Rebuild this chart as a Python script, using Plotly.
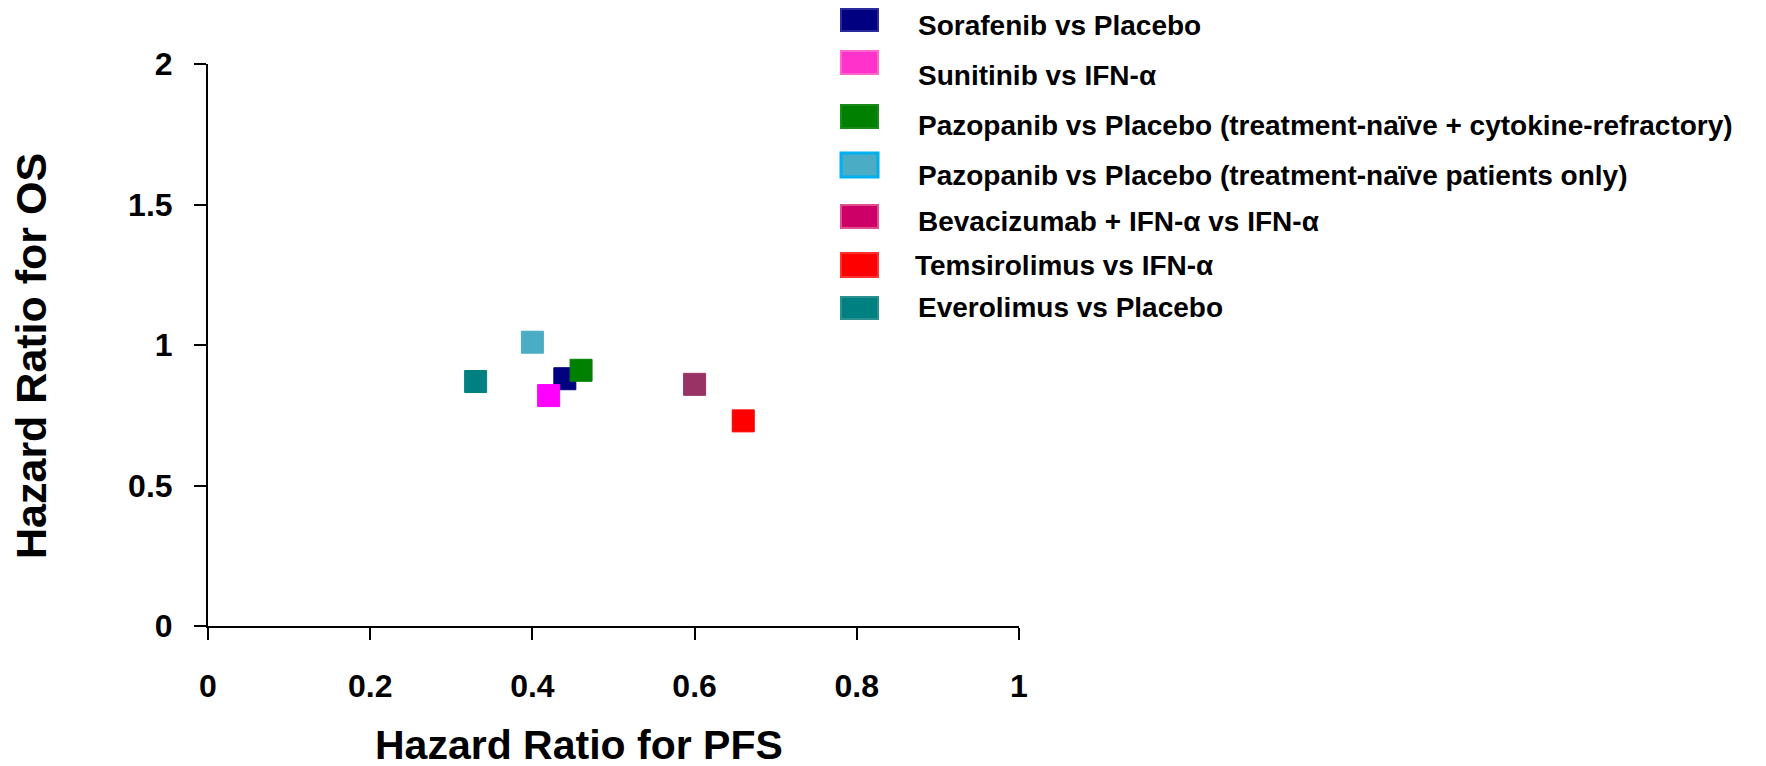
import plotly.graph_objects as go

# ---- data ----
names = [
    "Sorafenib vs Placebo",
    "Sunitinib vs IFN-α",
    "Pazopanib vs Placebo (treatment-naïve + cytokine-refractory)",
    "Pazopanib vs Placebo (treatment-naïve patients only)",
    "Bevacizumab + IFN-α vs IFN-α",
    "Temsirolimus vs IFN-α",
    "Everolimus vs Placebo",
]
hr_pfs = [0.44, 0.42, 0.46, 0.40, 0.60, 0.66, 0.33]
hr_os = [0.88, 0.82, 0.91, 1.01, 0.86, 0.73, 0.87]
marker_colors = ["#000080", "#FF00FF", "#008000", "#4BACC6", "#993366", "#FF0000", "#008080"]
legend_fill = ["#000080", "#FF33CC", "#008000", "#4BACC6", "#CC0066", "#FF0000", "#008080"]
legend_border = ["#2a2a9a", "#FF66CC", "#1a8a1a", "#00B0F0", "#E0508F", "#FF3030", "#2a9090"]
x_ticks = [0, 0.2, 0.4, 0.6, 0.8, 1]
y_ticks = [0, 0.5, 1, 1.5, 2]

# ---- layout geometry (page pixels) ----
OFF = 8  # default body margin of the html page
W, H = 1766, 766
L, R, T, B = 208, 1019, 64, 626
pw, ph = R - L, B - T


def px_x(px):
    return (px - L) / pw


def px_y(py):
    return (B - py) / ph


FONT = "Liberation Sans, Arial, sans-serif"

fig = go.Figure()
for n, x, y, c in zip(names, hr_pfs, hr_os, marker_colors):
    fig.add_trace(go.Scatter(
        x=[x], y=[y], mode="markers", name=n, showlegend=False,
        marker=dict(symbol="square", size=22, color=c, line=dict(width=1, color=c)),
    ))

# manual legend (rectangles + labels)
rect_rows = [(9, 31), (51, 74), (105, 128), (153, 177), (205, 228), (253, 277), (297, 319)]
text_rows = [24, 74, 125, 174, 220, 264, 306]
text_x = [916, 916, 916, 916, 916, 913, 916]
shapes = []
annotations = []
for i, n in enumerate(names):
    y0, y1 = rect_rows[i]
    shapes.append(dict(
        type="rect", xref="paper", yref="paper",
        x0=px_x(841), x1=px_x(878), y0=px_y(y1), y1=px_y(y0),
        fillcolor=legend_fill[i], line=dict(color=legend_border[i], width=2 if i != 3 else 3),
        layer="above",
    ))
    annotations.append(dict(
        xref="paper", yref="paper", x=px_x(text_x[i]), y=px_y(text_rows[i] + 1),
        xanchor="left", yanchor="middle", showarrow=False, text="<b>%s</b>" % n,
        font=dict(family=FONT, size=28, color="#000000"),
    ))

# axis titles
annotations.append(dict(
    xref="paper", yref="paper", x=px_x(579), y=px_y(745), xanchor="center", yanchor="middle",
    showarrow=False, text="<b>Hazard Ratio for PFS</b>", font=dict(family=FONT, size=41, color="#000"),
))
annotations.append(dict(
    xref="paper", yref="paper", x=px_x(31), y=px_y(356), xanchor="center", yanchor="middle",
    showarrow=False, text="<b>Hazard Ratio for OS</b>", textangle=-90,
    font=dict(family=FONT, size=43, color="#000"),
))

axis_common = dict(
    showline=True, linecolor="#000000", linewidth=2, showgrid=False, zeroline=False,
    ticks="outside", ticklen=12, tickwidth=2, tickcolor="#000000",
    tickfont=dict(family=FONT, size=32, color="#000000", weight="bold"),
    fixedrange=True,
)
fig.update_xaxes(range=[0, 1], tickvals=x_ticks, ticktext=[("%g" % v) for v in x_ticks],
                 ticklabelstandoff=19, **axis_common)
fig.update_yaxes(range=[0, 2], tickvals=y_ticks, ticktext=[("%g" % v) for v in y_ticks],
                 ticklabelstandoff=15, **axis_common)

fig.update_layout(
    width=W - OFF, height=H - OFF,
    margin=dict(l=L - OFF, r=W - R, t=T - OFF, b=H - B, autoexpand=False),
    paper_bgcolor="#FFFFFF", plot_bgcolor="#FFFFFF",
    shapes=shapes, annotations=annotations, showlegend=False,
    font=dict(family=FONT),
)

fig.write_html("out.html", config={"displayModeBar": False})
